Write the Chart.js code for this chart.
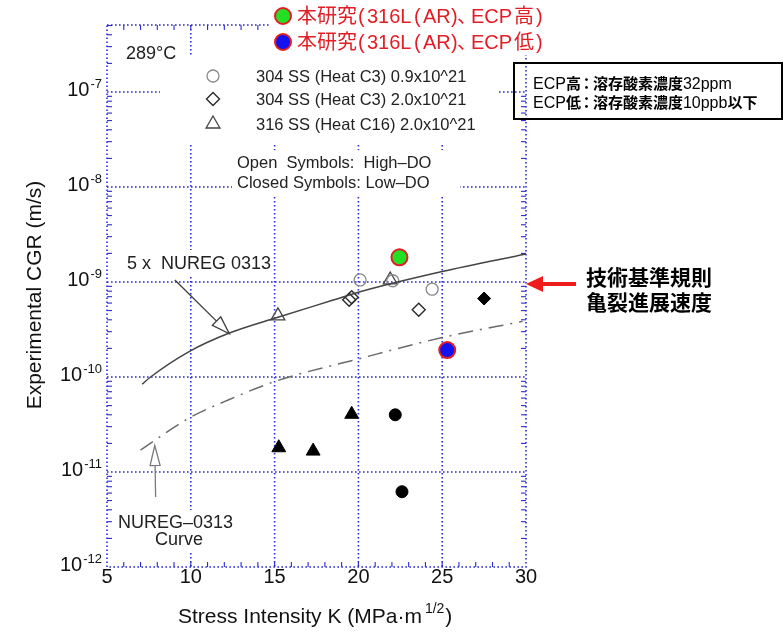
<!DOCTYPE html>
<html>
<head>
<meta charset="utf-8">
<script src="https://cdn.jsdelivr.net/npm/chart.js@4.4.1/dist/chart.umd.min.js"></script>
<style>
  html, body { margin: 0; padding: 0; background: #ffffff; }
  #wrap { width: 784px; height: 635px; position: relative; }
</style>
</head>
<body>
<div id="wrap"><canvas id="cgr" width="784" height="635"></canvas></div>
<script>
// Stress intensity K (MPa·m^1/2) versus crack growth rate (m/s), 289°C

// 5 x NUREG-0313 disposition curve
const nureg5xK   = [7.1, 7.6, 9.9, 12.3, 15.2, 18.5, 20.1, 25.0, 30.0];
const nureg5xCGR = [8.4e-11, 1.0e-10, 1.85e-10, 2.9e-10, 4.25e-10, 6.45e-10, 7.9e-10, 1.29e-9, 1.97e-9];

// NUREG-0313 curve
const nuregK   = [7.0, 9.9, 12.3, 15.2, 20.0, 25.0, 29.8];
const nuregCGR = [1.7e-11, 3.7e-11, 5.8e-11, 9.2e-11, 1.55e-10, 2.6e-10, 3.85e-10];

// 304 SS (Heat C3) 0.9x10^21, high DO
const openCircleK   = [20.1, 22.05, 24.4];
const openCircleCGR = [1.05e-9, 1.03e-9, 8.4e-10];
// 304 SS (Heat C3) 0.9x10^21, low DO
const closedCircleK   = [22.2, 22.6];
const closedCircleCGR = [4.0e-11, 6.2e-12];

// 304 SS (Heat C3) 2.0x10^21
const openDiamondK   = [19.45, 19.6, 23.6];
const openDiamondCGR = [6.5e-10, 6.9e-10, 5.1e-10];
const closedDiamondK   = [27.5];
const closedDiamondCGR = [6.7e-10];

// 316 SS (Heat C16) 2.0x10^21
const openTriangleK   = [15.2, 21.9];
const openTriangleCGR = [4.4e-10, 1.05e-9];
const closedTriangleK   = [15.25, 17.3, 19.6];
const closedTriangleCGR = [1.8e-11, 1.66e-11, 4.05e-11];

// 本研究 316L(AR)
const ecpHighK   = [22.45];
const ecpHighCGR = [1.82e-9];
const ecpLowK   = [25.3];
const ecpLowCGR = [1.92e-10];

// Axis ticks
const xTickValues = [5, 10, 15, 20, 25, 30];
const yTickExponents = [-12, -11, -10, -9, -8, -7];

// Reference rate marked on the right
const refRateCGR = 1e-9;

const legendRows = [
  '304 SS (Heat C3) 0.9x10^21',
  '304 SS (Heat C3) 2.0x10^21',
  '316 SS (Heat C16) 2.0x10^21'
];

const FONT = '"Liberation Sans", Arial, sans-serif';
const CJK = '"Noto Sans CJK JP", "Noto Sans CJK SC", sans-serif';
const GRID = '#2a2ad4';
const RED = '#e31d25';
const GREEN = '#24e024';
const BLUE = '#1212ee';

const pts = (xs, ys) => xs.map((k, i) => ({ x: k, y: ys[i] }));

function marker(style, radius, border, fill, width) {
  return {
    showLine: false,
    pointStyle: style,
    pointRadius: radius,
    pointBorderColor: border,
    pointBackgroundColor: fill,
    pointBorderWidth: width
  };
}

const datasets = [
  Object.assign({ label: '5 x NUREG 0313', data: pts(nureg5xK, nureg5xCGR) }, {
    showLine: true, borderColor: '#444444', borderWidth: 1.5, pointRadius: 0,
    cubicInterpolationMode: 'monotone', fill: false
  }),
  Object.assign({ label: 'NUREG-0313', data: pts(nuregK, nuregCGR) }, {
    showLine: true, borderColor: '#6a6a6a', borderWidth: 1.5, pointRadius: 0,
    borderDash: [15, 7, 2, 7], cubicInterpolationMode: 'monotone', fill: false
  }),
  Object.assign({ label: 'open circle', data: pts(openCircleK, openCircleCGR) },
    marker('circle', 6, '#8a8a8a', 'rgba(255,255,255,0)', 1.3)),
  Object.assign({ label: 'open diamond', data: pts(openDiamondK, openDiamondCGR) },
    marker('rectRot', 6.5, '#2a2a2a', 'rgba(255,255,255,0)', 1.4)),
  Object.assign({ label: 'closed diamond', data: pts(closedDiamondK, closedDiamondCGR) },
    marker('rectRot', 6.5, '#000000', '#000000', 1)),
  Object.assign({ label: 'open triangle', data: pts(openTriangleK, openTriangleCGR) },
    marker('triangle', 8, '#444444', 'rgba(255,255,255,0)', 1.3)),
  Object.assign({ label: 'closed triangle', data: pts(closedTriangleK, closedTriangleCGR) },
    marker('triangle', 8, '#000000', '#000000', 1)),
  Object.assign({ label: 'closed circle', data: pts(closedCircleK, closedCircleCGR) },
    marker('circle', 6, '#000000', '#000000', 1)),
  Object.assign({ label: 'ECP high', data: pts(ecpHighK, ecpHighCGR) },
    marker('circle', 8, RED, GREEN, 2)),
  Object.assign({ label: 'ECP low', data: pts(ecpLowK, ecpLowCGR) },
    marker('circle', 8, RED, BLUE, 2))
];

function seg(ctx, x1, y1, x2, y2) {
  ctx.beginPath(); ctx.moveTo(x1, y1); ctx.lineTo(x2, y2); ctx.stroke();
}

function openArrow(ctx, x0, y0, x1, y1, len, half, color) {
  const dx = x1 - x0, dy = y1 - y0, d = Math.hypot(dx, dy);
  const ux = dx / d, uy = dy / d, nx = -uy, ny = ux;
  const bx = x1 - ux * len, by = y1 - uy * len;
  ctx.strokeStyle = color; ctx.lineWidth = 1.3; ctx.setLineDash([]);
  seg(ctx, x0, y0, bx, by);
  ctx.beginPath();
  ctx.moveTo(x1, y1);
  ctx.lineTo(bx + nx * half, by + ny * half);
  ctx.lineTo(bx - nx * half, by - ny * half);
  ctx.closePath();
  ctx.fillStyle = '#ffffff'; ctx.fill(); ctx.stroke();
}

// draws a sequence of text runs, each with its own font; adv overrides the advance,
// at places the run at a fixed x
function runs(ctx, x, y, list, color) {
  ctx.fillStyle = color;
  ctx.textAlign = 'left';
  let cx = x;
  for (const r of list) {
    ctx.font = r.f;
    if (r.at !== undefined) cx = r.at;
    ctx.fillText(r.t, cx + (r.dx || 0), y);
    cx += (r.adv !== undefined) ? r.adv : ctx.measureText(r.t).width;
  }
  return cx;
}

function whitePanel(ctx, x, y, w, h) {
  ctx.fillStyle = '#ffffff';
  ctx.fillRect(x, y, w, h);
}

const framePlugin = {
  id: 'frame',
  beforeDatasetsDraw(chart) {
    const { ctx, chartArea: a, scales: { x, y } } = chart;
    ctx.save();

    // minor ticks on all four sides
    ctx.strokeStyle = GRID; ctx.lineWidth = 1.1; ctx.setLineDash([]);
    for (let k = x.min + 1; k < x.max; k++) {
      const px = x.getPixelForValue(k);
      seg(ctx, px, a.bottom, px, a.bottom - 5);
      seg(ctx, px, a.top, px, a.top + 5);
    }
    for (const e of yTickExponents) {
      for (let m = 2; m <= 9; m++) {
        const v = m * Math.pow(10, e);
        if (v >= y.max) continue;
        const py = y.getPixelForValue(v);
        seg(ctx, a.left, py, a.left + 5, py);
        seg(ctx, a.right, py, a.right - 5, py);
      }
    }

    // dotted grid
    ctx.lineWidth = 1.6; ctx.setLineDash([1.6, 2.4]);
    for (const v of xTickValues) {
      if (v <= x.min || v >= x.max) continue;
      const px = x.getPixelForValue(v);
      seg(ctx, px, a.top, px, a.bottom);
    }
    for (const e of yTickExponents) {
      const v = Math.pow(10, e);
      if (v <= y.min || v >= y.max) continue;
      const py = y.getPixelForValue(v);
      seg(ctx, a.left, py, a.right, py);
    }
    // dotted frame
    ctx.strokeRect(a.left, a.top, a.right - a.left, a.bottom - a.top);
    ctx.setLineDash([]);

    // label backgrounds
    whitePanel(ctx, 270, 0, 300, 55);     // study legend
    whitePanel(ctx, 160, 57, 338, 86);    // material legend
    whitePanel(ctx, 232, 150, 228, 46);   // DO note
    whitePanel(ctx, 124, 250, 147, 25);   // 5 x NUREG label
    whitePanel(ctx, 115, 510, 124, 42);   // NUREG-0313 label
    ctx.restore();
  },
  afterDatasetsDraw(chart) {
    const { ctx, chartArea: a, scales: { x, y } } = chart;
    ctx.save();
    ctx.textBaseline = 'alphabetic';

    // x tick labels
    ctx.fillStyle = '#111111';
    ctx.font = '20px ' + FONT;
    ctx.textAlign = 'center';
    for (const v of xTickValues) {
      ctx.fillText(String(v), x.getPixelForValue(v), a.bottom + 16);
    }
    // y tick labels 10^e
    for (const e of yTickExponents) {
      const py = y.getPixelForValue(Math.pow(10, e));
      ctx.font = '20px ' + FONT;
      const wBase = ctx.measureText('10').width;
      ctx.font = '13px ' + FONT;
      const sup = String(e);
      const wSup = ctx.measureText(sup).width;
      const right = a.left - 5;
      ctx.textAlign = 'left';
      ctx.font = '20px ' + FONT;
      ctx.fillText('10', right - wBase - wSup - 1, py + 4);
      ctx.font = '13px ' + FONT;
      ctx.fillText(sup, right - wSup, py - 4);
    }

    // axis titles
    ctx.textAlign = 'left';
    let tx = 178;
    ctx.font = '21px ' + FONT;
    const xTitle = 'Stress Intensity K (MPa\u00b7m';
    ctx.fillText(xTitle, tx, 623);
    tx += ctx.measureText(xTitle).width + 3;
    ctx.font = '14px ' + FONT;
    ctx.fillText('1/2', tx, 613);
    tx += ctx.measureText('1/2').width + 1;
    ctx.font = '21px ' + FONT;
    ctx.fillText(')', tx, 623);

    ctx.save();
    ctx.translate(41, 295);
    ctx.rotate(-Math.PI / 2);
    ctx.textAlign = 'center';
    ctx.font = '21px ' + FONT;
    ctx.fillText('Experimental CGR (m/s)', 0, 0);
    ctx.restore();

    // temperature
    ctx.textAlign = 'left';
    ctx.font = '18px ' + FONT;
    ctx.fillStyle = '#222222';
    ctx.fillText('289\u00b0C', 126, 59);

    // material legend
    const H = Chart.helpers;
    const symY = [76, 99, 124];
    const symStyles = [
      { pointStyle: 'circle', radius: 6, borderWidth: 1.3, stroke: '#8a8a8a' },
      { pointStyle: 'rectRot', radius: 6.5, borderWidth: 1.4, stroke: '#2a2a2a' },
      { pointStyle: 'triangle', radius: 8, borderWidth: 1.3, stroke: '#444444' }
    ];
    symStyles.forEach((s, i) => {
      ctx.strokeStyle = s.stroke; ctx.fillStyle = 'rgba(255,255,255,0)';
      ctx.lineWidth = s.borderWidth;
      H.drawPoint(ctx, { pointStyle: s.pointStyle, radius: s.radius, borderWidth: s.borderWidth, rotation: 0 }, 213, symY[i]);
    });
    ctx.fillStyle = '#222222';
    ctx.font = '16.5px ' + FONT;
    legendRows.forEach((t, i) => ctx.fillText(t, 256, symY[i] + 6));
    ctx.fillText('Open  Symbols:  High\u2013DO', 237, 168);
    ctx.fillText('Closed Symbols: Low\u2013DO', 237, 188);

    // curve labels and leaders
    ctx.font = '18px ' + FONT;
    ctx.fillStyle = '#222222';
    ctx.fillText('5 x  NUREG 0313', 127, 269);
    openArrow(ctx, x.getPixelForValue(9.05), y.getPixelForValue(1.05e-9),
      x.getPixelForValue(12.3), y.getPixelForValue(2.85e-10), 18, 6, '#3a3a3a');

    ctx.fillStyle = '#222222';
    ctx.font = '18px ' + FONT;
    ctx.fillText('NUREG\u20130313', 118, 528);
    ctx.fillText('Curve', 155, 545);
    openArrow(ctx, x.getPixelForValue(7.9), y.getPixelForValue(5.45e-12),
      x.getPixelForValue(7.85), y.getPixelForValue(1.9e-11), 20, 5, '#7a7a7a');

    // study legend (top)
    const studyRows = [
      { fill: GREEN, tail: '高' },
      { fill: BLUE, tail: '低' }
    ];
    studyRows.forEach((r, i) => {
      const cy = 16 + i * 26;
      ctx.strokeStyle = RED; ctx.fillStyle = r.fill; ctx.lineWidth = 2;
      H.drawPoint(ctx, { pointStyle: 'circle', radius: 8, borderWidth: 2, rotation: 0 }, 283, cy);
      const f = '20px ' + FONT + ', ' + CJK;
      runs(ctx, 297, cy + 7, [
        { t: '本研究', f: f, at: 297 },
        { t: '(', f: f, at: 358 },
        { t: '316L', f: f, at: 367 },
        { t: '(', f: f, at: 414 },
        { t: 'AR', f: f, at: 423 },
        { t: ')', f: f, at: 451 },
        { t: '、', f: f, at: 457 },
        { t: 'ECP', f: f, at: 471 },
        { t: r.tail, f: f, at: 514 },
        { t: ')', f: f, at: 536 }
      ], RED);
    });

    // ECP condition box
    ctx.strokeStyle = '#000000'; ctx.lineWidth = 2; ctx.setLineDash([]);
    ctx.strokeRect(514, 63, 268, 56);
    const lat = '16px ' + FONT;
    const cjk = 'bold 15px ' + CJK;
    runs(ctx, 533, 89, [
      { t: 'ECP', f: lat }, { t: '高', f: cjk }, { t: '：', f: cjk, adv: 12, dx: -2 },
      { t: '溶存酸素濃度', f: cjk }, { t: '32ppm', f: lat }
    ], '#000000');
    runs(ctx, 533, 108, [
      { t: 'ECP', f: lat }, { t: '低', f: cjk }, { t: '：', f: cjk, adv: 12, dx: -2 },
      { t: '溶存酸素濃度', f: cjk }, { t: '10ppb', f: lat }, { t: '以下', f: cjk }
    ], '#000000');

    // reference-rate arrow on the right
    const ay = y.getPixelForValue(refRateCGR) + 2;
    ctx.fillStyle = '#ee1c1c';
    ctx.fillRect(541, ay - 2, 35, 4);
    ctx.beginPath();
    ctx.moveTo(a.right, ay);
    ctx.lineTo(a.right + 17, ay - 8);
    ctx.lineTo(a.right + 17, ay + 8);
    ctx.closePath();
    ctx.fill();
    ctx.fillStyle = '#000000';
    ctx.font = 'bold 21px ' + CJK;
    ctx.textAlign = 'left';
    ctx.fillText('技術基準規則', 586, 285);
    ctx.fillText('亀裂進展速度', 586, 310);

    ctx.restore();
  }
};

new Chart(document.getElementById('cgr'), {
  type: 'scatter',
  data: { datasets: datasets },
  options: {
    responsive: false,
    devicePixelRatio: 1,
    animation: false,
    layout: { padding: { left: 0, right: 258, top: 25, bottom: 0 } },
    plugins: { legend: { display: false }, tooltip: { enabled: false } },
    scales: {
      x: {
        type: 'linear', min: 5, max: 30,
        ticks: { display: false, stepSize: 5 },
        grid: { display: false }, border: { display: false },
        afterFit(s) { s.height = 68; }
      },
      y: {
        type: 'logarithmic', min: 1e-12, max: 5.07e-7,
        ticks: { display: false },
        grid: { display: false }, border: { display: false },
        afterFit(s) { s.width = 107; }
      }
    }
  },
  plugins: [framePlugin]
});
</script>
</body>
</html>
